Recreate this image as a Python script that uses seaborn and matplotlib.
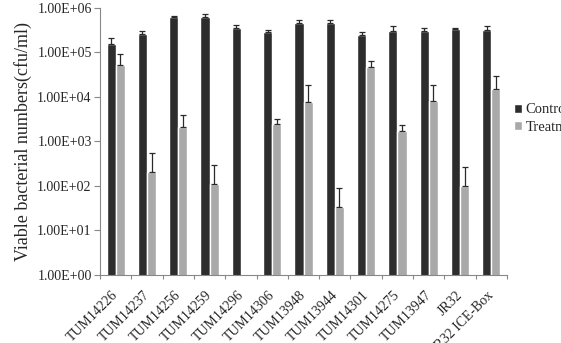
import numpy as np
import pandas as pd
import matplotlib
matplotlib.use('Agg')
import matplotlib.pyplot as plt
import matplotlib.transforms as mtransforms
import seaborn as sns

strains = ['TUM14226', 'TUM14237', 'TUM14256', 'TUM14259', 'TUM14296', 'TUM14306',
           'TUM13948', 'TUM13944', 'TUM14301', 'TUM14275', 'TUM13947', 'JR32',
           'JR32 ICE-Box']
control = [1.55e5, 2.6e5, 6.3e5, 6.2e5, 3.6e5, 2.88e5, 4.7e5, 4.7e5, 2.5e5, 3.1e5, 3.1e5, 3.4e5, 3.2e5]
control_err = [6.0e4, 4.0e4, 2.0e4, 1.1e5, 6.0e4, 2.5e4, 8.0e4, 8.0e4, 4.0e4, 8.0e4, 5.0e4, 1.0e4, 7.0e4]
treatment = [5.2e4, 2.0e2, 2.1e3, 1.07e2, np.nan, 2.45e3, 7.8e3, 3.3e1, 4.8e4, 1.74e3, 8.2e3, 9.8e1, 1.48e4]
treatment_err = [4.1e4, 3.5e2, 1.7e3, 1.8e2, np.nan, 7.0e2, 1.08e4, 5.7e1, 1.7e4, 5.6e2, 1.04e4, 1.7e2, 1.48e4]
groups = ['Control', 'Treatment']
yticks = [1e0, 1e1, 1e2, 1e3, 1e4, 1e5, 1e6]
ytick_labels = ['1.00E+00', '1.00E+01', '1.00E+02', '1.00E+03', '1.00E+04', '1.00E+05', '1.00E+06']

df = pd.DataFrame({
    'strain': strains * 2,
    'cfu': control + treatment,
    'err': control_err + treatment_err,
    'group': [groups[0]] * len(strains) + [groups[1]] * len(strains),
})

sns.set_style('white')
plt.rcParams['font.family'] = ['Liberation Serif', 'DejaVu Serif']

fig, ax = plt.subplots(figsize=(5.61, 3.43), dpi=100)
fig.subplots_adjust(left=100/561, right=507/561, top=1-8/343, bottom=1-274.5/343)

colors = ['#2d2d2d', '#a9a9a9']
sns.barplot(data=df, x='strain', y='cfu', hue='group', order=strains, hue_order=groups,
            palette=colors, saturation=1, width=0.58, errorbar=None, ax=ax)
ax.set_yscale('log')

# one-sided error bars on top of each bar
errs = [control_err, treatment_err]
bar_conts = list(ax.containers)
for k, cont in enumerate(bar_conts):
    for p in cont:
        if p is None:
            continue
        h = p.get_height()
        if not np.isfinite(h) or h <= 0:
            continue
        xc = p.get_x() + p.get_width() / 2
        i = int(round(xc))
        e = errs[k][i]
        ax.errorbar(xc, h, yerr=[[0], [e]], fmt='none', ecolor='#2a2a2a',
                    elinewidth=0.9, capsize=2.5, capthick=0.9)

ax.set_ylim(1, 1e6)
ax.set_xlim(-0.5, len(strains) - 0.5)
ax.set_yticks(yticks)
ax.set_yticklabels(ytick_labels, fontsize=10)
ax.yaxis.set_minor_locator(matplotlib.ticker.NullLocator())
ax.tick_params(axis='y', which='major', length=4, width=0.8, color='#888888', pad=2, left=True)

ax.set_xticks(range(len(strains)))
ax.set_xticklabels(strains, rotation=45, ha='right', rotation_mode='anchor', fontsize=10)
ax.set_xticks(np.arange(len(strains) + 1) - 0.5, minor=True)
ax.tick_params(axis='x', which='major', length=0, pad=10)
ax.tick_params(axis='x', which='minor', length=3, width=0.8, color='#888888', bottom=True)
offset = mtransforms.ScaledTranslation(-4/100, 0, fig.dpi_scale_trans)
for lab in ax.get_xticklabels():
    lab.set_transform(lab.get_transform() + offset)

for s in ['top', 'right']:
    ax.spines[s].set_visible(False)
for s in ['left', 'bottom']:
    ax.spines[s].set_color('#888888')
    ax.spines[s].set_linewidth(0.8)

ax.set_xlabel('')
ax.set_ylabel('Viable bacterial numbers(cfu/ml)', fontsize=13, labelpad=4)

# legend runs off the right edge, as in the original
ax.legend(loc='center left', bbox_to_anchor=(1.002, 0.585), frameon=False, fontsize=10.5,
          handlelength=0.55, handleheight=0.55, handletextpad=0.25, labelspacing=0.3,
          borderaxespad=0)

fig.savefig('out.png', dpi=100)
